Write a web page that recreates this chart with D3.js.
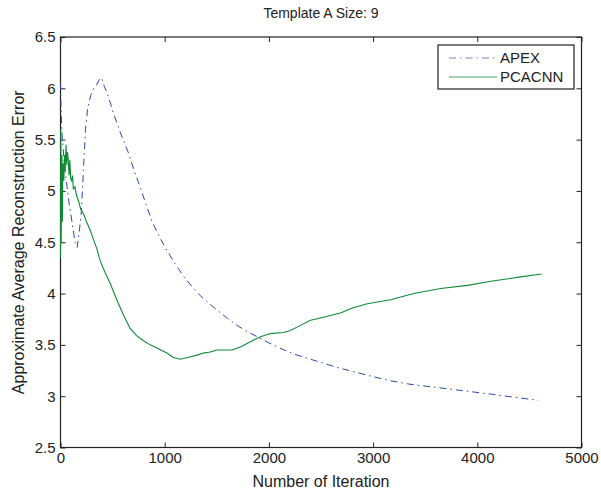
<!DOCTYPE html>
<html>
<head>
<meta charset="utf-8">
<script src="https://cdn.jsdelivr.net/npm/d3@7"></script>
<style>
  body { margin: 0; background: #fff; }
  svg text { font-family: "Liberation Sans", Arial, sans-serif; fill: #222; }
  .axis path { display: none; }
  .axis line { stroke: #222; }
</style>
</head>
<body>
<div id="chart"></div>
<script>
// values: [iteration, error]
var apex = [
  [0, 6.05], [5, 5.8], [15, 5.55], [30, 5.35], [50, 5.15], [80, 4.9], [110, 4.7],
  [140, 4.5], [160, 4.45], [180, 4.6], [200, 4.8], [220, 5.2], [240, 5.6], [260, 5.8],
  [290, 5.93], [320, 6.0], [340, 6.02], [360, 6.06], [380, 6.1], [395, 6.1], [420, 6.02],
  [460, 5.92], [500, 5.78], [556, 5.62], [600, 5.5], [652, 5.37], [700, 5.22], [764, 5.04],
  [820, 4.87], [880, 4.7], [950, 4.55], [1021, 4.42], [1100, 4.29], [1180, 4.17],
  [1260, 4.07], [1341, 3.98], [1420, 3.91], [1502, 3.84], [1600, 3.76], [1694, 3.69],
  [1790, 3.63], [1887, 3.58], [1980, 3.53], [2079, 3.48], [2170, 3.44], [2271, 3.40],
  [2400, 3.36], [2524, 3.32], [2690, 3.27], [2848, 3.23], [3000, 3.19], [3168, 3.15],
  [3330, 3.12], [3486, 3.10], [3650, 3.08], [3810, 3.06], [3970, 3.04], [4130, 3.02],
  [4350, 2.99], [4585, 2.96]
];

var pcacnn = [
  [0, 4.35], [3, 5.6], [6, 4.5], [10, 4.9], [14, 5.35], [18, 4.7], [22, 5.2], [27, 5.27],
  [32, 5.1], [38, 5.35], [44, 5.2], [53, 5.45], [60, 5.25], [67, 5.38], [75, 5.3],
  [82, 5.15], [90, 5.3], [98, 5.12], [107, 5.1], [115, 5.15], [123, 5.02], [139, 5.04],
  [155, 4.95], [171, 4.91], [195, 4.82], [219, 4.78], [250, 4.7], [284, 4.62], [315, 4.53],
  [348, 4.44], [372, 4.35], [396, 4.28], [430, 4.2], [476, 4.1], [516, 4.0], [556, 3.9],
  [610, 3.78], [668, 3.66], [730, 3.59], [796, 3.54], [860, 3.5], [925, 3.47], [1021, 3.42],
  [1080, 3.38], [1149, 3.36], [1230, 3.38], [1310, 3.4], [1373, 3.42], [1437, 3.43],
  [1500, 3.45], [1566, 3.45], [1646, 3.45], [1726, 3.48], [1822, 3.53], [1920, 3.58],
  [2014, 3.61], [2139, 3.62], [2207, 3.64], [2303, 3.69], [2400, 3.74], [2524, 3.77],
  [2687, 3.81], [2800, 3.86], [2944, 3.9], [3168, 3.94], [3390, 4.0], [3649, 4.05],
  [3906, 4.08], [4130, 4.12], [4400, 4.16], [4617, 4.19]
];

var xTicks = [0, 1000, 2000, 3000, 4000, 5000];
var yTicks = [2.5, 3, 3.5, 4, 4.5, 5, 5.5, 6, 6.5];
var seriesNames = ["APEX", "PCACNN"];

var margin = {top: 37, right: 19.5, bottom: 40.5, left: 60.5},
    width = 601 - margin.left - margin.right,
    height = 488 - margin.top - margin.bottom;

var x = d3.scaleLinear().domain([0, 5000]).range([0, width]);
var y = d3.scaleLinear().domain([2.5, 6.5]).range([height, 0]);

var svg = d3.select("#chart").append("svg")
    .attr("width", 601)
    .attr("height", 488)
  .append("g")
    .attr("transform", "translate(" + margin.left + "," + margin.top + ")");

// axes, ticks pointing inward on all four sides
svg.append("g")
    .attr("class", "axis")
    .attr("transform", "translate(0," + height + ")")
    .call(d3.axisBottom(x).tickValues(xTicks).tickFormat(d3.format("d"))
      .tickSizeInner(-5).tickSizeOuter(0).tickPadding(5))
    .selectAll("text").style("font-size", "15px").attr("fill", "#222");

svg.append("g")
    .attr("class", "axis")
    .call(d3.axisTop(x).tickValues(xTicks).tickSizeInner(-5).tickSizeOuter(0).tickFormat(""));

svg.append("g")
    .attr("class", "axis")
    .call(d3.axisLeft(y).tickValues(yTicks).tickFormat(d3.format(""))
      .tickSizeInner(-5).tickSizeOuter(0).tickPadding(5))
    .selectAll("text").style("font-size", "15px").attr("fill", "#222");

svg.append("g")
    .attr("class", "axis")
    .attr("transform", "translate(" + width + ",0)")
    .call(d3.axisRight(y).tickValues(yTicks).tickSizeInner(-5).tickSizeOuter(0).tickFormat(""));

svg.append("rect")
    .attr("width", width)
    .attr("height", height)
    .style("fill", "none")
    .style("stroke", "#222")
    .style("stroke-width", 1.2);

var line = d3.line()
    .x(function(d) { return x(d[0]); })
    .y(function(d) { return y(d[1]); });

svg.append("path")
    .datum(apex)
    .attr("d", line)
    .style("fill", "none")
    .style("stroke", "#2a48aa")
    .style("stroke-width", 1)
    .style("stroke-dasharray", "7,4,1.5,4");

svg.append("path")
    .datum(pcacnn)
    .attr("d", line)
    .style("fill", "none")
    .style("stroke", "#0f8a35")
    .style("stroke-width", 1.1);

// title and axis labels
svg.append("text")
    .attr("x", width / 2)
    .attr("y", -19)
    .attr("text-anchor", "middle")
    .style("font-size", "14px")
    .text("Template A Size: 9");

svg.append("text")
    .attr("x", width / 2)
    .attr("y", height + 39)
    .attr("text-anchor", "middle")
    .style("font-size", "16px")
    .text("Number of Iteration");

svg.append("text")
    .attr("transform", "rotate(-90)")
    .attr("x", -height / 2)
    .attr("y", -37)
    .attr("text-anchor", "middle")
    .style("font-size", "16px")
    .text("Approximate Average Reconstruction Error");

// legend
var legend = svg.append("g")
    .attr("transform", "translate(" + (438 - margin.left) + "," + (45 - margin.top) + ")");

legend.append("rect")
    .attr("width", 136)
    .attr("height", 44)
    .style("fill", "#fff")
    .style("stroke", "#222")
    .style("stroke-width", 1.2);

var styles = [
  {stroke: "#6f86cc", dash: "7,4,1.5,4"},
  {stroke: "#4aa36e", dash: null}
];

seriesNames.forEach(function(name, i) {
  var ly = 13 + i * 19;
  legend.append("line")
      .attr("x1", 11)
      .attr("x2", 59)
      .attr("y1", ly)
      .attr("y2", ly)
      .style("stroke", styles[i].stroke)
      .style("stroke-width", 1.2)
      .style("stroke-dasharray", styles[i].dash);
  legend.append("text")
      .attr("x", 62)
      .attr("y", ly + 5)
      .style("font-size", "15px")
      .text(name);
});
</script>
</body>
</html>
